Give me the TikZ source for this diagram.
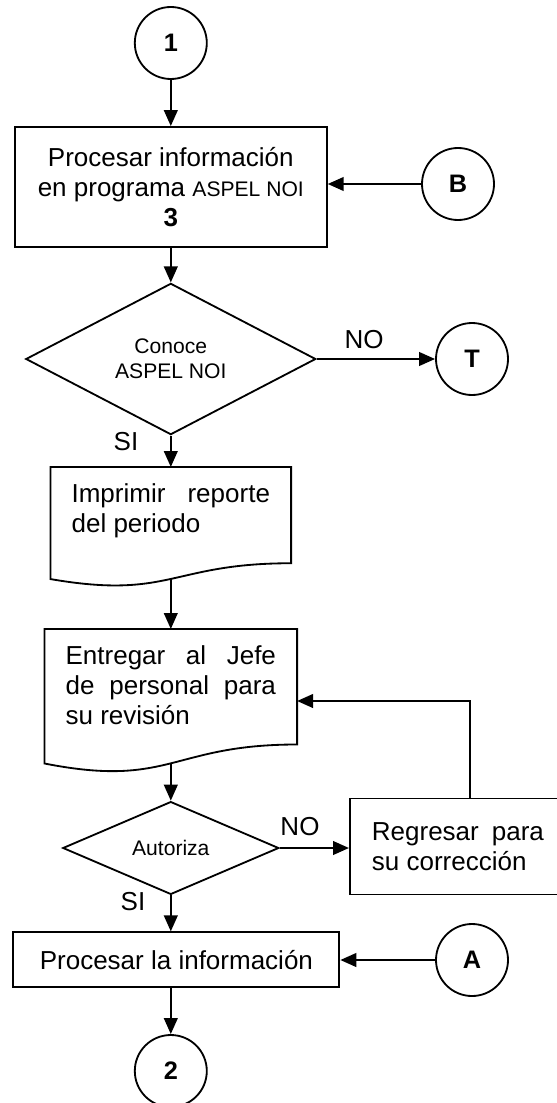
\documentclass[tikz,border=0pt]{standalone}
\usepackage{fontspec}
\setmainfont{Liberation Sans}
\usetikzlibrary{shapes.geometric,arrows.meta,calc}
\usepackage{color}

\newcommand{\mainsize}{\fontsize{18.5}{21.3}\selectfont}
\newcommand{\smallsize}{\fontsize{15}{17.8}\selectfont}
\tolerance=9999
\hyphenpenalty=10000

% Outline of a document node (wavy bottom), #2 = height
\newcommand{\docoutline}[2]{%
  \draw[line width=1.3pt] (#1.north west) -- (#1.north east) -- ++(0,-0.802*#2)
    .. controls ($(#1.north)+(0,-0.802*#2)$) and ($(#1.north)+(0,-1.107*#2)$)
    .. ($(#1.north west)+(0,-0.934*#2)$) -- cycle;}

\tikzset{
  process/.style={rectangle, draw, line width=1.3pt, align=center, inner sep=0pt, font=\mainsize},
  decision/.style={diamond, draw, line width=1.3pt, inner sep=0pt, align=center, font=\smallsize},
  connector/.style={circle, draw, line width=1.3pt, minimum size=1.8cm, inner sep=0pt,
    font=\bfseries\fontsize{18}{20}\selectfont},
  document/.style={align=justify, inner xsep=0.52cm, inner ysep=0.4cm, anchor=north, font=\mainsize},
  flow/.style={line width=1.6pt, -{Triangle[length=0.4cm, width=0.34cm]}},
  answer/.style={font=\mainsize}
}

\begin{document}
\begin{tikzpicture}
% Basic parameters
\def\colx{4.27}
\def\rightx{11.8}

\useasboundingbox (0,0) rectangle (13.925,-27.575);

% Connectors
\node[connector] (one) at (\colx,-1.075) {1};
\node[connector] (conB) at (11.45,-4.6) {B};
\node[connector] (conT) at (\rightx,-8.975) {T};
\node[connector] (conA) at (\rightx,-24.0) {A};
\node[connector] (two) at (\colx,-26.775) {2};

% Process boxes
\node[process, minimum width=7.8cm, minimum height=3cm] (noi) at (\colx,-4.675)
  {Procesar información\\en programa {\smallsize ASPEL NOI}\\\textbf{3}};
\node[process, minimum width=8.15cm, minimum height=1.375cm] (info) at (4.41,-23.995)
  {Procesar la información};
\node[process, anchor=north west, text width=4.3cm, align=justify, inner xsep=0.55cm,
  minimum height=2.4cm] (regresar) at (8.725,-19.94)
  {Regresar para su corrección};

% Decisions
\node[decision, minimum width=7.25cm, minimum height=3cm] (conoce) at (\colx,-8.975)
  {Conoce\\ASPEL NOI};
\node[decision, minimum width=5.4cm, minimum height=1.8cm] (autoriza) at (\colx,-21.2)
  {Autoriza};

% Documents
\node[document, text width=4.96cm] (imprimir) at (\colx,-11.675)
  {Imprimir reporte del periodo};
\node[document, text width=5.26cm] (entregar) at (\colx,-15.725)
  {Entregar al Jefe de personal para su revisión};
\docoutline{imprimir}{3}
\docoutline{entregar}{3.6}
\coordinate (imprimirbase) at ($(imprimir.north)+(0,-0.93*3)$);
\coordinate (entregarbase) at ($(entregar.north)+(0,-0.93*3.6)$);
\coordinate (entregarside) at ($(entregar.north east)+(0,-1.8)$);

% Answers
\node[answer] (noA) at (9.1,-8.5) {NO};
\node[answer] (siA) at (3.15,-11.05) {SI};
\node[answer] (noB) at (7.5,-20.675) {NO};
\node[answer] (siB) at (3.325,-22.55) {SI};

% Arrows
\draw[flow] (one) -- (noi);
\draw[flow] (conB) -- (conB -| noi.east);
\draw[flow] (noi) -- (conoce);
\draw[flow] (conoce) -- (conT);
\draw[flow] (conoce) -- (imprimir.north);
\draw[flow] (imprimirbase) -- (entregar.north);
\draw[flow] (entregarbase) -- (autoriza);
\draw[flow] (autoriza) -- (autoriza -| regresar.west);
\draw[flow] ([xshift=0.3cm]regresar.north) |- (entregarside);
\draw[flow] (autoriza) -- (autoriza |- info.north);
\draw[flow] (conA) -- (conA -| info.east);
\draw[flow] (two |- info.south) -- (two);
\end{tikzpicture}
\end{document}
